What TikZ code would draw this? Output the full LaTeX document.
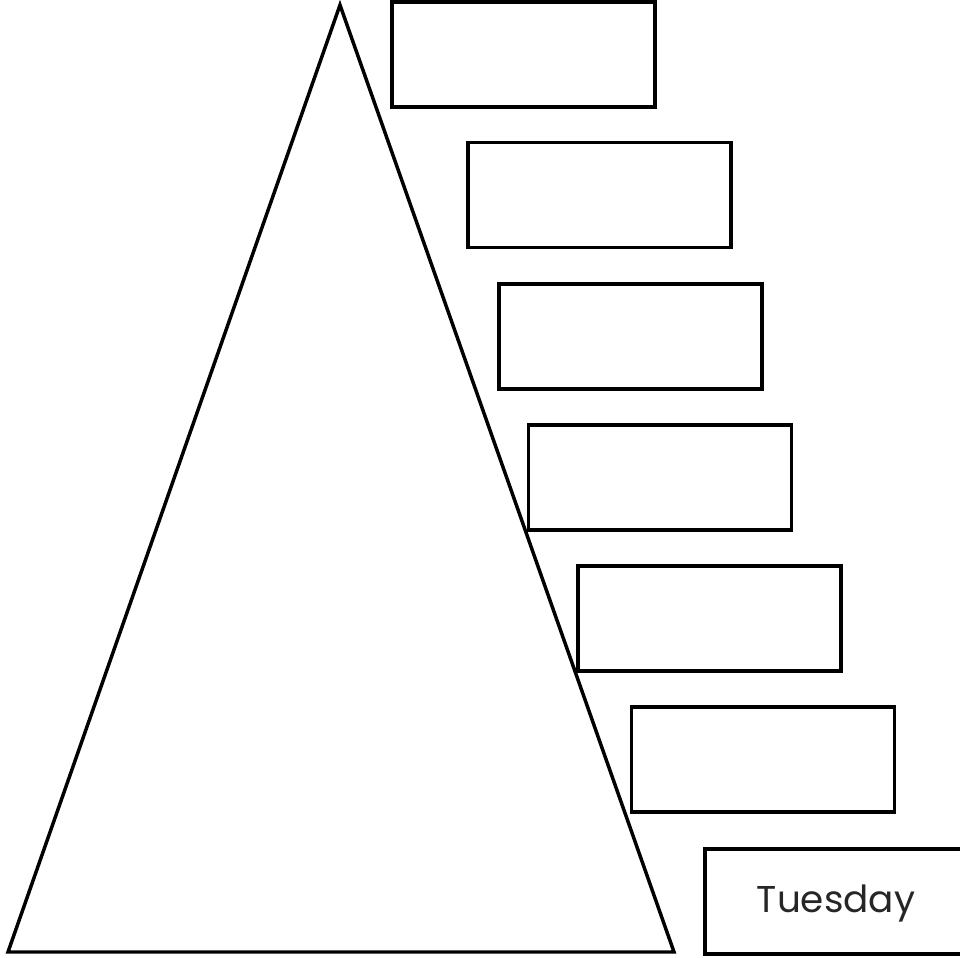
\documentclass[tikz,border=0pt]{standalone}
\usepackage{fontspec}
\setmainfont{Poppins}
\begin{document}
\begin{tikzpicture}[x=0.75pt,y=-0.75pt,
  box/.style={draw=black,line width=2.6pt,rectangle,minimum width=197.25pt,minimum height=78.75pt,inner sep=0pt,fill=white},
  lbl/.style={font=\fontsize{28}{30}\selectfont,text=black!85}]
\useasboundingbox (0,0) rectangle (960,957);
\fill[white] (0,0) rectangle (960,957);
\begin{scope}
\clip (0,0) rectangle (960,957);
\draw[line width=2.6pt,line join=miter] (340,5) -- (8,952) -- (674,952) -- cycle;
\node[box] (b1) at (523.5,54.5) {};
\node[box] (b2) at (599.5,195) {};
\node[box] (b3) at (630.5,336.5) {};
\node[box] (b4) at (660,477.5) {};
\node[box] (b5) at (709.5,618.5) {};
\node[box] (b6) at (763,759.5) {};
\node[box] (b7) at (836.5,901.5) {};
\node[lbl] (t7) at (836,903) {Tuesday};
\end{scope}
\end{tikzpicture}
\end{document}
